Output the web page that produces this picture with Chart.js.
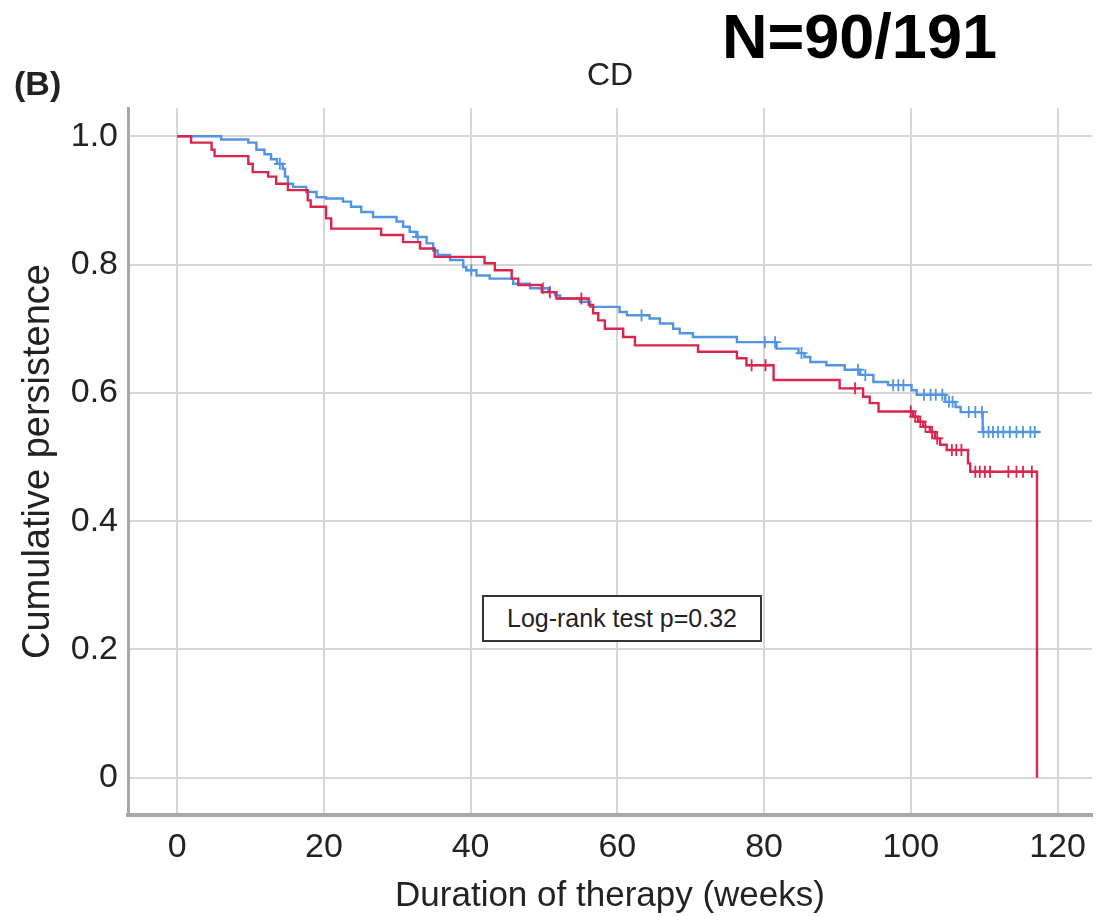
<!DOCTYPE html>
<html>
<head>
<meta charset="utf-8">
<script src="https://cdn.jsdelivr.net/npm/chart.js@4.4.0/dist/chart.umd.min.js"></script>
<style>
  body { margin: 0; background: #fff; }
  #wrap { position: relative; width: 1101px; height: 917px; font-family: "Liberation Sans", Arial, sans-serif; }
  #panel { position: absolute; left: 14px; top: 66px; font-size: 34px; font-weight: bold; line-height: 1; color: #222; }
  #nlabel { position: absolute; left: 722px; top: 5px; font-size: 63px; font-weight: bold; line-height: 1; color: #000; }
  #logrank {
    position: absolute; left: 482px; top: 595px; width: 280px; height: 47px; box-sizing: border-box;
    border: 2.5px solid #333; background: #fff; color: #222; font-size: 25px;
    display: flex; align-items: center; justify-content: center;
  }
</style>
</head>
<body>
<div id="wrap">
  <canvas id="chart" width="1101" height="917"></canvas>
  <div id="panel">(B)</div>
  <div id="nlabel">N=90/191</div>
  <div id="logrank">Log-rank test p=0.32</div>
</div>
<script>
// Kaplan-Meier steps (weeks, cumulative persistence)
const redTime = [0, 1.9, 4.7, 5.1, 9.7, 10.3, 12.4, 13.5, 15.1, 17.8, 18.2, 20.3, 21.0, 27.8, 30.8, 33.1, 35.1,
  41.9, 43.3, 45.6, 46.5, 49.7, 51.7, 56.1, 56.7, 57.4, 58.3, 60.8, 62.4, 71.0, 76.3, 77.6, 81.3, 90.3,
  93.5, 94.4, 95.6, 100.3, 101.0, 101.7, 102.6, 103.3, 104.0, 104.9, 107.8, 108.1, 117.2, 117.2];
const redSurv = [1.0, 0.990, 0.979, 0.969, 0.957, 0.944, 0.937, 0.926, 0.916, 0.900, 0.890, 0.872, 0.856, 0.846, 0.835, 0.825, 0.812,
  0.802, 0.791, 0.778, 0.768, 0.757, 0.747, 0.737, 0.724, 0.713, 0.700, 0.687, 0.674, 0.664, 0.654, 0.643, 0.620, 0.607,
  0.594, 0.584, 0.571, 0.563, 0.555, 0.547, 0.539, 0.529, 0.519, 0.511, 0.490, 0.477, 0.477, 0];
const redCensor = [50.8, 55.1, 78.3, 80.2, 92.4, 100.0, 100.6, 101.3, 102.0, 102.9, 103.6, 105.6, 106.2, 106.9,
  108.8, 109.4, 110.1, 110.8, 113.3, 114.4, 115.3, 116.5];

const blueTime = [0, 6.0, 9.7, 10.8, 11.9, 12.8, 13.6, 14.4, 14.7, 15.1, 15.8, 17.6, 19.0, 20.3, 22.6, 23.7, 25.1, 26.7,
  29.9, 30.8, 31.7, 32.6, 34.0, 34.9, 35.5, 37.2, 39.0, 39.4, 40.8, 42.6, 45.8, 48.1, 50.6, 51.5, 52.2, 54.9, 56.3,
  60.3, 61.3, 64.4, 65.8, 67.6, 68.5, 70.3, 76.3, 81.7, 84.7, 85.5, 86.3, 88.5, 91.0, 93.1, 94.9, 96.9, 100.1, 100.8,
  104.7, 106.1, 106.8, 109.8, 117.6];
const blueSurv = [1.0, 0.995, 0.990, 0.979, 0.972, 0.964, 0.957, 0.949, 0.937, 0.926, 0.921, 0.913, 0.905, 0.903, 0.898, 0.890, 0.882, 0.874,
  0.867, 0.859, 0.851, 0.843, 0.833, 0.822, 0.815, 0.807, 0.796, 0.791, 0.783, 0.778, 0.770, 0.763, 0.757, 0.752, 0.747, 0.742, 0.734,
  0.726, 0.721, 0.716, 0.708, 0.700, 0.693, 0.687, 0.679, 0.669, 0.662, 0.656, 0.648, 0.643, 0.636, 0.628, 0.617, 0.612, 0.604,
  0.597, 0.586, 0.578, 0.570, 0.539, 0.539];
const blueCensor = [14.0, 32.8, 40.1, 49.9, 63.3, 80.1, 81.5, 85.1, 92.8, 93.8, 97.6, 98.3, 99.0, 101.8, 102.7, 103.4,
  104.3, 105.2, 105.7, 107.9, 108.8, 109.7, 109.9, 110.6, 111.2, 111.9, 112.6, 113.5, 114.4, 115.3, 116.3, 116.9];

const xTicks = [0, 20, 40, 60, 80, 100, 120];
const yTicks = [0, 0.2, 0.4, 0.6, 0.8, 1.0];

const RED = 'rgb(218, 38, 78)';
const BLUE = 'rgb(82, 148, 228)';
const FONT = '"Liberation Sans", Arial, sans-serif';

// value of the step curve at time t (for placing censor marks on the line)
function survAt(times, surv, t) {
  let s = surv[0];
  for (let i = 0; i < times.length; i++) {
    if (times[i] <= t) s = surv[i];
  }
  return s;
}

const toPoints = (times, surv) => times.map((t, i) => ({ x: t, y: surv[i] }));
const toCensor = (censor, times, surv) => censor.map(t => ({ x: t, y: survAt(times, surv, t) }));

const stepLine = (data, color) => ({
  type: 'line', data: data, stepped: 'before', borderColor: color, borderWidth: 2.4,
  pointRadius: 0, fill: false
});
const censorMarks = (data, color) => ({
  type: 'scatter', data: data, pointStyle: 'cross', pointRadius: 6, borderColor: color,
  backgroundColor: color, pointBorderWidth: 1.8, showLine: false
});

new Chart(document.getElementById('chart'), {
  data: {
    datasets: [
      stepLine(toPoints(redTime, redSurv), RED),
      censorMarks(toCensor(redCensor, redTime, redSurv), RED),
      stepLine(toPoints(blueTime, blueSurv), BLUE),
      censorMarks(toCensor(blueCensor, blueTime, blueSurv), BLUE)
    ]
  },
  options: {
    responsive: false,
    animation: false,
    layout: { padding: { left: 0, right: 9, top: 0, bottom: 0 } },
    plugins: {
      legend: { display: false },
      tooltip: { enabled: false },
      title: {
        display: true, text: 'CD', fullSize: false, color: '#222',
        font: { family: FONT, size: 32, weight: 'normal' },
        padding: { top: 57, bottom: 12.6 }
      }
    },
    scales: {
      x: {
        type: 'linear', min: -6.7, max: 124.7,
        afterFit: s => { s.height = 102; },
        afterBuildTicks: s => { s.ticks = xTicks.map(v => ({ value: v })); },
        ticks: { font: { family: FONT, size: 34 }, color: '#222', padding: 12, maxRotation: 0 },
        grid: { color: '#d6d6d6', lineWidth: 2, drawTicks: false },
        border: { color: '#a8a8a8', width: 4 },
        title: {
          display: true, text: 'Duration of therapy (weeks)', color: '#222',
          font: { family: FONT, size: 35 }, padding: { top: 0, bottom: 0 }
        }
      },
      y: {
        type: 'linear', min: -0.058, max: 1.044,
        afterFit: s => { s.width = 128; },
        afterBuildTicks: s => { s.ticks = yTicks.map(v => ({ value: v })); },
        ticks: {
          font: { family: FONT, size: 34 }, color: '#222', padding: 10,
          callback: v => (v === 0 ? '0' : v.toFixed(1))
        },
        grid: { color: '#d6d6d6', lineWidth: 2, drawTicks: false },
        border: { color: '#a8a8a8', width: 3 },
        title: {
          display: true, text: 'Cumulative persistence', color: '#222',
          font: { family: FONT, size: 38 }, padding: { top: 16, bottom: 0 }
        }
      }
    }
  }
});
</script>
</body>
</html>
